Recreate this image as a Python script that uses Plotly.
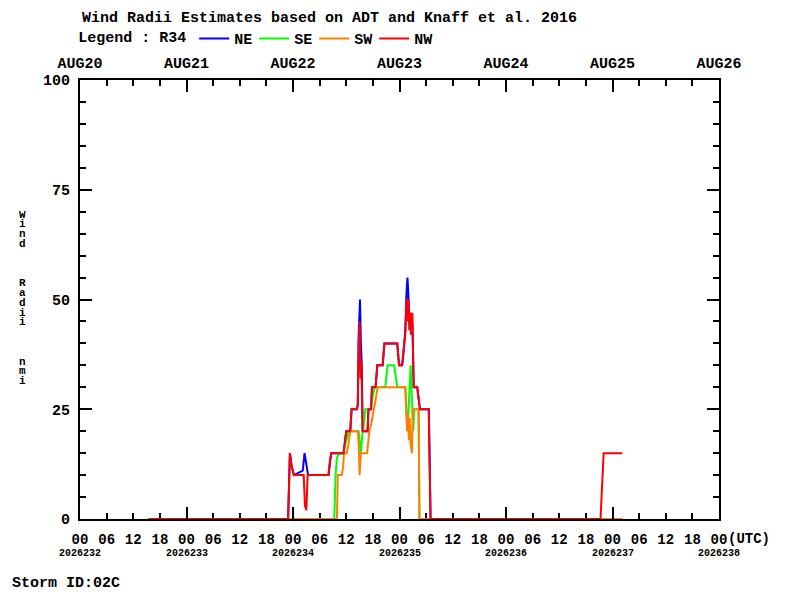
import plotly.graph_objects as go

# hours after AUG20 00 UTC (julian day 2026232)
ne_hours = [15.5, 46.9, 47.3, 47.7, 48.2, 50.2, 50.6, 50.9, 51.1, 51.4, 56.0, 56.3, 56.6, 59.4,
            59.7, 60.0, 60.9, 61.2, 62.4, 62.6, 62.8, 63.1, 63.3, 63.5, 63.7, 64.8, 65.0, 65.6,
            65.8, 66.6, 67.0, 68.2, 68.6, 71.5, 71.9, 72.6, 72.8, 73.0, 73.3, 73.6, 73.8, 74.0,
            74.2, 74.4, 74.6, 74.9, 75.2, 76.0, 76.3, 76.6, 78.6, 78.8, 79.0, 122.2]
ne = [0, 0, 15, 12, 10, 11, 15, 13, 11, 10, 10, 13, 15, 15,
      18, 20, 20, 25, 25, 26, 42, 50, 40, 35, 20, 20, 25, 25,
      30, 30, 35, 35, 40, 40, 35, 35, 37, 40, 43, 52, 55, 51,
      46, 47, 42, 45, 30, 30, 27, 25, 25, 6, 0, 0]

se_hours = [15.5, 57.3, 57.6, 57.9, 58.5, 59.3, 59.8, 60.3, 60.6, 62.8, 63.0, 63.3, 63.6, 63.9,
            64.3, 65.5, 66.0, 66.4, 68.8, 69.0, 69.3, 70.8, 71.1, 71.5, 73.3, 73.6, 73.8, 74.0,
            74.3, 74.5, 74.7, 74.9, 75.1, 75.3, 76.3, 76.5, 122.2]
se = [0, 0, 10, 14, 15, 15, 17, 19, 20, 20, 17, 15, 19, 21,
      25, 25, 28, 30, 30, 33, 35, 35, 33, 30, 30, 25, 20, 24,
      30, 35, 30, 25, 20, 25, 25, 0, 0]

sw_hours = [15.5, 57.9, 58.1, 59.0, 59.3, 59.5, 60.1, 60.5, 60.9, 62.6, 62.8, 63.0, 63.3, 64.7,
            64.9, 65.2, 65.7, 66.2, 66.6, 67.1, 73.3, 73.5, 73.7, 73.9, 74.1, 74.3, 74.5, 74.8,
            75.0, 76.3, 76.5, 122.2]
sw = [0, 0, 10, 10, 12, 15, 15, 17, 20, 20, 17, 10, 15, 15,
      17, 20, 22, 25, 27, 30, 30, 25, 20, 24, 18, 23, 17, 15,
      25, 25, 0, 0]

nw_hours = [15.5, 46.9, 47.3, 47.7, 48.2, 50.4, 50.7, 51.0, 51.3, 56.0, 56.3, 56.6, 59.4, 59.7,
            60.0, 60.9, 61.2, 62.4, 62.6, 62.8, 63.0, 63.2, 63.4, 63.7, 64.8, 65.0, 65.6, 65.8,
            66.6, 67.0, 68.2, 68.6, 71.5, 71.9, 72.6, 72.8, 73.0, 73.3, 73.6, 73.8, 74.0, 74.2,
            74.4, 74.6, 74.9, 75.2, 76.0, 76.3, 76.6, 78.6, 78.8, 79.0, 117.3, 117.5, 117.7, 118.0,
            122.2]
nw = [0, 0, 15, 12, 10, 10, 3, 2, 10, 10, 13, 15, 15, 18,
      20, 20, 25, 25, 26, 40, 45, 32, 36, 20, 20, 25, 25, 30,
      30, 35, 35, 40, 40, 35, 35, 37, 40, 42, 50, 45, 50, 43,
      47, 42, 47, 30, 30, 27, 25, 25, 6, 0, 0, 4, 11, 15,
      15]

day_labels = ["AUG20", "AUG21", "AUG22", "AUG23", "AUG24", "AUG25", "AUG26"]
julian_labels = ["2026232", "2026233", "2026234", "2026235", "2026236", "2026237", "2026238"]
y_ticks = [0, 25, 50, 75, 100]

FONT = "Liberation Mono, DejaVu Sans Mono, monospace"

hour_vals = list(range(0, 145, 6))
hour_text = ["%02d" % (h % 24) for h in hour_vals]
day_vals = list(range(0, 145, 24))

fig = go.Figure()
series = [("NE", ne_hours, ne, "#0000ff"),
          ("SE", se_hours, se, "#00ff00"),
          ("SW", sw_hours, sw, "#ff8000"),
          ("NW", nw_hours, nw, "#ff0000")]
for name, xs, ys, color in series:
    fig.add_trace(go.Scatter(x=xs, y=ys, mode="lines", name=name,
                             line=dict(color=color, width=2),
                             cliponaxis=False, hoverinfo="skip"))

# invisible trace so the top axis is drawn
fig.add_trace(go.Scatter(x=[0, 144], y=[None, None], xaxis="x2", showlegend=False,
                         hoverinfo="skip", mode="lines"))

# page body adds 8px, so margins are shifted by that much
fig.update_layout(
    width=800, height=600,
    margin=dict(l=72, r=89, t=72, b=89, autoexpand=False),
    paper_bgcolor="white", plot_bgcolor="white",
    font=dict(family=FONT, size=15, color="black", weight="bold"),
    showlegend=True,
    legend=dict(orientation="h", x=-0.006, xanchor="left", y=1.094, yanchor="middle",
                title=dict(text="Legend : R34", font=dict(size=15)),
                font=dict(size=15), itemwidth=30,
                entrywidthmode="pixels", entrywidth=15,
                bgcolor="rgba(0,0,0,0)"),
    xaxis=dict(range=[0, 144], tickvals=hour_vals, ticktext=hour_text, tickangle=0,
               ticks="inside", ticklen=6, tickwidth=2, tickcolor="black",
               showline=True, linewidth=2, linecolor="black", mirror="ticks",
               showgrid=False, zeroline=False, layer="below traces", automargin=False,
               tickfont=dict(size=14), ticklabelstandoff=6, fixedrange=True),
    xaxis2=dict(range=[0, 144], overlaying="x", side="top", anchor="y", tickangle=0,
                tickvals=day_vals, ticktext=day_labels,
                ticks="inside", ticklen=12, tickwidth=2, tickcolor="black",
                mirror="ticks", showline=False, showgrid=False, zeroline=False,
                automargin=False,
                tickfont=dict(size=15), ticklabelstandoff=8, fixedrange=True),
    yaxis=dict(range=[0, 100], tickvals=y_ticks,
               ticks="inside", ticklen=12, tickwidth=2, tickcolor="black",
               minor=dict(dtick=5, ticks="inside", ticklen=6, tickwidth=2, tickcolor="black"),
               showline=True, linewidth=2, linecolor="black", mirror="ticks",
               showgrid=False, zeroline=False, layer="below traces", automargin=False,
               tickfont=dict(size=15), ticklabelstandoff=5, fixedrange=True),
)

# "(UTC)" right after the last hour label
fig.add_annotation(x=hour_vals[-1], y=-0.046, xref="x", yref="paper", text="(UTC)",
                   showarrow=False, font=dict(size=14), xanchor="left", yanchor="middle",
                   xshift=8, borderpad=0)

# julian day labels under the hour ticks
for d, lab in zip(day_vals, julian_labels):
    fig.add_annotation(x=d, y=-0.078, xref="x", yref="paper", text=lab, showarrow=False,
                       font=dict(size=10), xanchor="center", yanchor="middle")

fig.add_annotation(x=0, y=1.139, xref="paper", yref="paper", xanchor="left", yanchor="middle",
                   text="Wind Radii Estimates based on ADT and Knaff et al. 2016",
                   showarrow=False, font=dict(size=15))

# vertical stacked y title
ytitle = "Wind   Radii   nmi"
for i, ch in enumerate(ytitle):
    if ch == " ":
        continue
    fig.add_annotation(x=-0.0894, y=(519 - (214 + i * 9.8)) / 439, xref="paper", yref="paper",
                       text=ch, showarrow=False, font=dict(size=11), height=9,
                       borderpad=0, xanchor="center", yanchor="middle")

fig.add_annotation(x=-0.1095, y=-0.146, xref="paper", yref="paper", xanchor="left",
                   yanchor="middle", text="Storm ID:02C", showarrow=False, font=dict(size=15))

fig.write_html("out.html")
